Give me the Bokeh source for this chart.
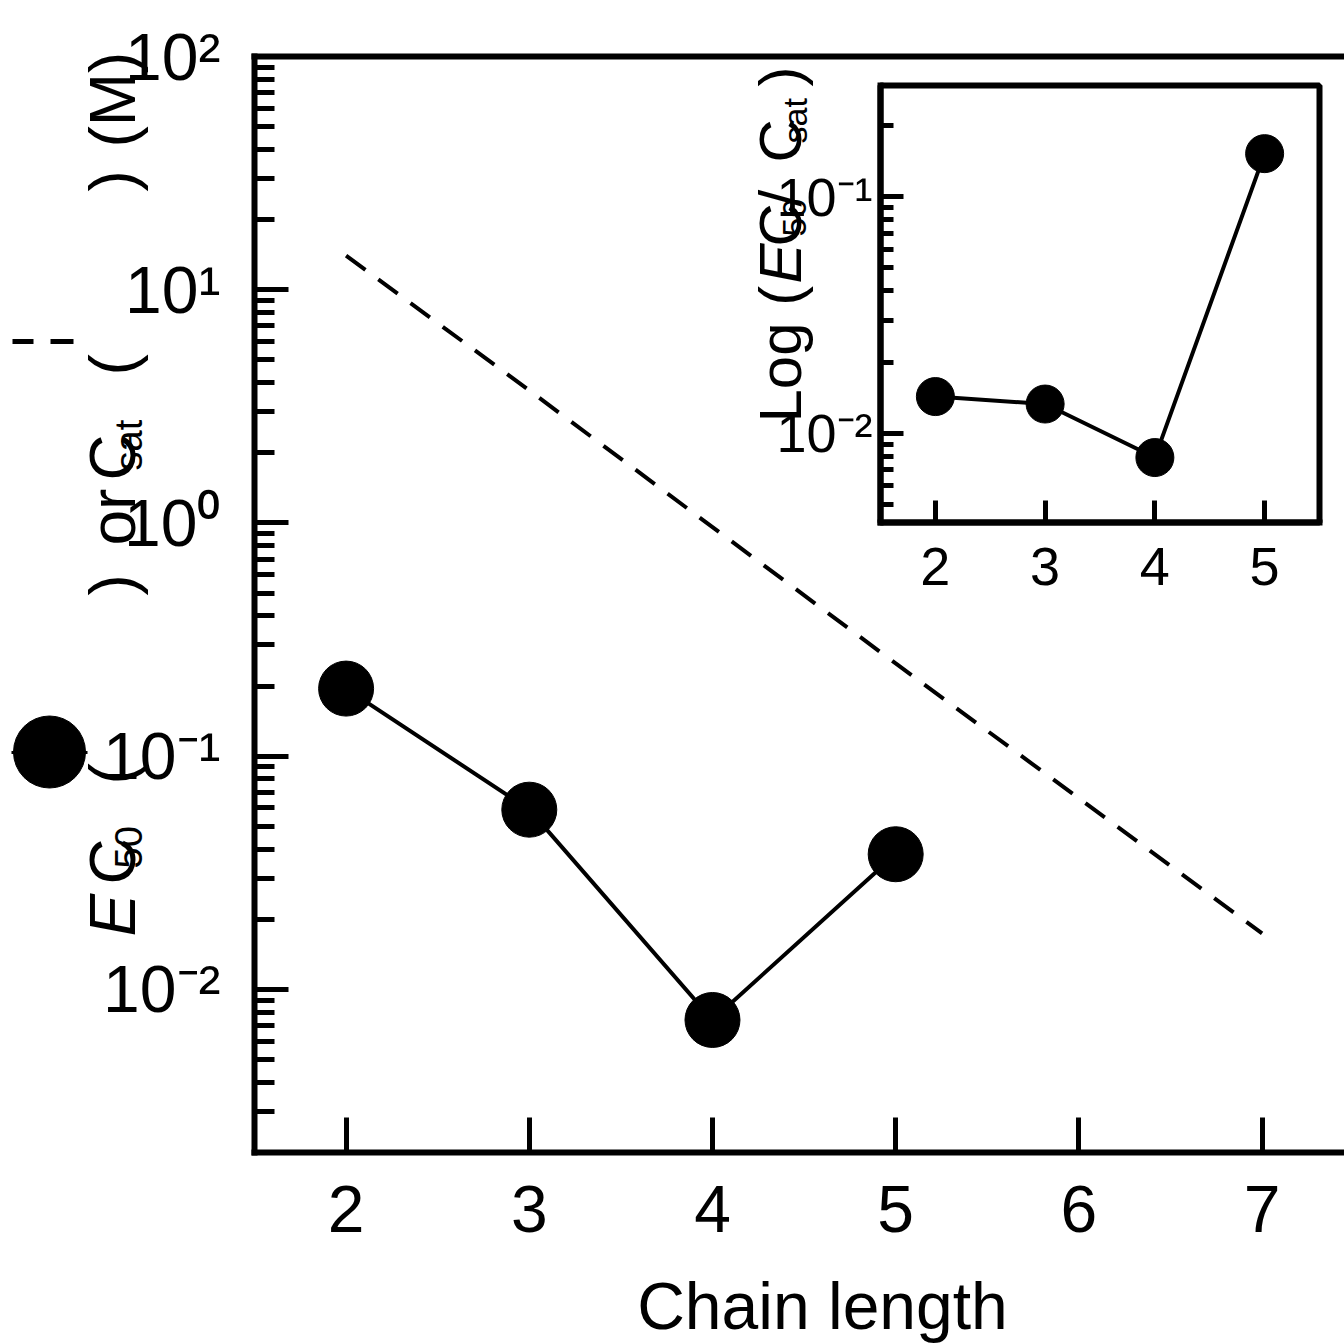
import math

from bokeh.core.properties import value
from bokeh.embed import file_html
from bokeh.models import FixedTicker, LinearAxis, Range1d
from bokeh.plotting import figure
from bokeh.resources import INLINE

FONT = "Liberation Sans"
PAGE = 1344

# ---- data -------------------------------------------------------------
chain_length = [2, 3, 4, 5]
ec50 = [0.195, 0.059, 0.0074, 0.038]            # M, filled circles
csat_chain = [2, 3, 4, 5, 6, 7]
csat = [14.0, 3.7, 0.96, 0.25, 0.066, 0.0174]   # M, dashed line
ratio = [0.0143, 0.0133, 0.0079, 0.152]         # EC50 / Csat (inset)

x_ticks = [2, 3, 4, 5, 6, 7]
inset_x_ticks = [2, 3, 4, 5]
main_decades = [0.01, 0.1, 1, 10, 100]
inset_decades = [0.01, 0.1]
decade_labels = {0.01: "10\u207b\u00b2", 0.1: "10\u207b\u00b9", 1: "10\u2070",
                 10: "10\u00b9", 100: "10\u00b2"}


def minor_log_ticks(lo, hi):
    out = []
    for e in range(-4, 3):
        for k in range(2, 10):
            v = k * 10.0 ** e
            if lo <= v <= hi:
                out.append(v)
    return out


def style_axis(ax, width, major_in, minor_in, font_px):
    ax.axis_line_width = width
    ax.axis_line_color = "black"
    ax.axis_line_cap = "square"
    ax.major_tick_in = major_in
    ax.major_tick_out = 0
    ax.major_tick_line_width = 5
    ax.major_tick_line_color = "black"
    ax.minor_tick_in = minor_in
    ax.minor_tick_out = 0
    ax.minor_tick_line_width = 5
    ax.minor_tick_line_color = "black"
    ax.major_label_text_font = FONT
    ax.major_label_text_font_size = f"{font_px}px"
    ax.major_label_text_color = "black"


# ---- main plot --------------------------------------------------------
FL, FB = 254, 1152   # frame left / bottom in page pixels

p = figure(width=PAGE, height=PAGE,
           x_range=Range1d(1.5, 7.45), y_range=Range1d(0.002, 100),
           y_axis_type="log", output_backend="svg", toolbar_location=None,
           min_border_left=FL, min_border_right=0,
           min_border_top=56, min_border_bottom=PAGE - FB,
           outline_line_color=None,
           background_fill_color="white", border_fill_color="white")
p.grid.visible = False

style_axis(p.xaxis[0], 6, 35, 0, 66)
style_axis(p.yaxis[0], 6, 34, 20, 66)
p.xaxis.ticker = FixedTicker(ticks=x_ticks)
p.xaxis.minor_tick_line_color = None
p.xaxis.major_label_standoff = 33
p.yaxis.ticker = FixedTicker(ticks=main_decades,
                             minor_ticks=minor_log_ticks(0.002, 100))
p.yaxis.major_label_overrides = decade_labels
p.yaxis.major_label_standoff = 34

top_axis = LinearAxis(ticker=FixedTicker(ticks=[]), axis_line_width=6,
                      axis_line_cap="square",
                      major_tick_line_color=None, minor_tick_line_color=None,
                      major_label_text_font_size="0px")
p.add_layout(top_axis, "above")

p.line(csat_chain, csat, line_color="black", line_width=4, line_dash="24 16")
p.line(chain_length, ec50, line_color="black", line_width=4)
p.scatter(chain_length, ec50, size=55, fill_color="black", line_color="black")

# ---- inset ------------------------------------------------------------
IL, IT, IW, IH = 730, 40, PAGE - 730, 600
IFL, IFB = 880, 522              # inset frame left / bottom in page pixels

ins = figure(width=IW, height=IH,
             x_range=Range1d(1.5, 5.5), y_range=Range1d(0.0042, 0.295),
             y_axis_type="log", output_backend="svg", toolbar_location=None,
             min_border_left=IFL - IL, min_border_right=25,
             min_border_top=85 - IT, min_border_bottom=IT + IH - IFB,
             outline_line_color="black", outline_line_width=6,
             background_fill_color="white", border_fill_alpha=0.0,
             styles={"position": "absolute", "left": f"{IL}px",
                     "top": f"{IT}px", "z-index": "5"})
ins.grid.visible = False

style_axis(ins.xaxis[0], 6, 22, 0, 54)
style_axis(ins.yaxis[0], 6, 23, 13, 54)
ins.xaxis.ticker = FixedTicker(ticks=inset_x_ticks)
ins.xaxis.minor_tick_line_color = None
ins.xaxis.major_label_standoff = 25
ins.yaxis.ticker = FixedTicker(ticks=inset_decades,
                               minor_ticks=minor_log_ticks(0.0042, 0.295))
ins.yaxis.major_label_overrides = {k: decade_labels[k] for k in inset_decades}
ins.yaxis.major_label_standoff = 8

ins.line(chain_length, ratio, line_color="black", line_width=4)
ins.scatter(chain_length, ratio, size=38, fill_color="black", line_color="black")

# ---- axis titles and key symbols, laid out in page pixels -------------
deco = figure(width=PAGE, height=PAGE,
              x_range=Range1d(0, PAGE), y_range=Range1d(0, PAGE),
              x_axis_location=None, y_axis_location=None,
              toolbar_location=None, output_backend="svg", min_border=0,
              outline_line_color=None, background_fill_alpha=0.0,
              border_fill_alpha=0.0,
              styles={"position": "absolute", "left": "0px", "top": "0px",
                      "z-index": "10"})
deco.grid.visible = False


def page_y(y):
    return PAGE - y


def put_text(x, y, text, size, italic=False, rotated=False, align="left"):
    # (x, y) is the baseline point in page pixels; the glyph anchor sits
    # about a third of an em above the baseline, so move it there.
    shift = 0.34 * size
    if rotated:
        ax, ay, angle = x - shift, y, math.pi / 2
    else:
        ax, ay, angle = x, y - shift, 0.0
    deco.text(x=[ax], y=[page_y(ay)], text=[text], angle=angle,
              text_font=value(FONT), text_font_size=value(f"{size}px"),
              text_font_style="italic" if italic else "normal",
              text_align=align, text_baseline="alphabetic",
              text_color="black")


put_text(822, 1328, "Chain length", 66, align="center")

# (baseline x, start y, text, px, italic) for the rotated titles
main_title = [
    (134, 936, "E", 64, True),
    (134, 884, "C", 64, False),
    (141, 868, "50", 38, False),
    (134, 784, "(", 64, False),
    (134, 595, ")", 64, False),
    (134, 545, "or", 64, False),
    (134, 480, "C", 64, False),
    (141, 470, "sat", 38, False),
    (134, 375, "(", 64, False),
    (134, 191, ")", 64, False),
    (134, 147, "(M)", 64, False),
]
inset_title = [
    (800, 422, "Log (", 60, False),
    (800, 283, "E", 60, True),
    (800, 246, "C", 60, False),
    (806, 236, "50", 34, False),
    (800, 206, "/", 60, False),
    (800, 162, "C", 60, False),
    (806, 143, "sat", 34, False),
    (800, 86, ")", 60, False),
]
for bx, sy, text, size, italic in main_title + inset_title:
    put_text(bx, sy, text, size, italic=italic, rotated=True)

# key: filled circle with its line, and the dashed line
deco.segment(x0=[11], y0=[page_y(752)], x1=[87], y1=[page_y(752)],
             line_color="black", line_width=3)
deco.scatter(x=[49], y=[page_y(751.5)], size=72,
             fill_color="black", line_color="black")
deco.segment(x0=[12, 50], y0=[page_y(341)] * 2, x1=[33, 73],
             y1=[page_y(341)] * 2, line_color="black", line_width=5)

open("out.html", "w").write(file_html([p, ins, deco], INLINE))
